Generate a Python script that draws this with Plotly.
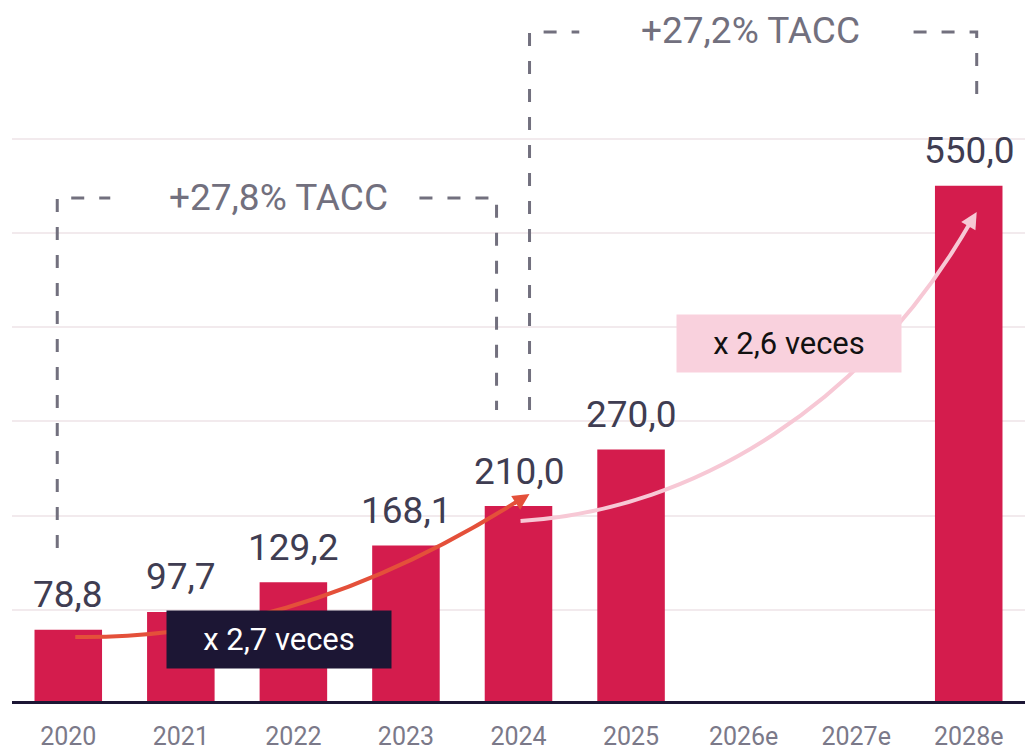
import plotly.graph_objects as go

# ---- data ----
years = ["2020", "2021", "2022", "2023", "2024", "2025", "2026e", "2027e", "2028e"]
values = [78.8, 97.7, 129.2, 168.1, 210.0, 270.0, None, None, 550.0]
value_labels = ["78,8", "97,7", "129,2", "168,1", "210,0", "270,0", "", "", "550,0"]
cagr_labels = ["+27,8% TACC", "+27,2% TACC"]
mult_labels = ["x 2,7 veces", "x 2,6 veces"]

# ---- style ----
BAR = "#d41c4d"
DARK = "#1c1634"
GREY = "#72707e"
LABEL = "#3f3d52"
TICK = "#7b7989"
ORANGE = "#e4503a"
PINK = "#f7c8d5"
PINKBOX = "#f9d1dd"
FONT = "Roboto"

xs = list(range(len(years)))

fig = go.Figure()
fig.add_trace(go.Bar(x=xs, y=values, width=0.6, marker=dict(color=BAR, line=dict(width=0)),
                     hoverinfo="skip"))

annotations = []
for x, v, t in zip(xs, values, value_labels):
    if v is None:
        continue
    annotations.append(dict(x=x, y=v, text=t, showarrow=False, yanchor="middle", yshift=35,
                            font=dict(family=FONT, size=37, color=LABEL)))

shapes = []
# baseline
shapes.append(dict(type="line", xref="paper", yref="y", x0=0, x1=1, y0=0, y1=0,
                   line=dict(color=DARK, width=6)))

dash = "13px,15px"
# bracket 1 (2020 -> 2024)
shapes.append(dict(type="path", path="M -0.098,165.6 L -0.098,537 L 0.373,537",
                   line=dict(color=GREY, width=3, dash=dash)))
shapes.append(dict(type="path", path="M 3.12,537 L 3.805,537 L 3.805,312",
                   line=dict(color=GREY, width=3, dash=dash)))
annotations.append(dict(x=1.87, y=537, text=cagr_labels[0], showarrow=False,
                        font=dict(family=FONT, size=37, color=GREY)))
# bracket 2 (2024 -> 2028e)
shapes.append(dict(type="path", path="M 4.098,312 L 4.098,713 L 4.54,713",
                   line=dict(color=GREY, width=3, dash=dash)))
shapes.append(dict(type="path", path="M 7.51,713 L 8.071,713 L 8.071,643",
                   line=dict(color=GREY, width=3, dash=dash)))
annotations.append(dict(x=6.06, y=715, text=cagr_labels[1], showarrow=False,
                        font=dict(family=FONT, size=37, color=GREY)))

# growth arrows
shapes.append(dict(type="path", path="M 0.062,71.1 Q 2.058,67.9 4.04,219",
                   line=dict(color=ORANGE, width=4)))
annotations.append(dict(x=4.098, y=222.9, ax=3.947, ay=211.2, axref="x", ayref="y",
                        xref="x", yref="y", text="", showarrow=True, arrowhead=2,
                        arrowsize=1.1, arrowwidth=3, arrowcolor=ORANGE, standoff=0))
shapes.append(dict(type="path", path="M 4.018,194.2 C 5.605,205.9 7.113,322.6 8.03,514",
                   line=dict(color=PINK, width=4)))
annotations.append(dict(x=8.071, y=522.1, ax=7.982, ay=504.1, axref="x", ayref="y",
                        xref="x", yref="y", text="", showarrow=True, arrowhead=2,
                        arrowsize=1.1, arrowwidth=3, arrowcolor=PINK, standoff=0))

# multiplier boxes
annotations.append(dict(x=1.87, y=68, text=mult_labels[0], showarrow=False,
                        width=224, height=57, bgcolor=DARK, borderpad=0,
                        font=dict(family=FONT, size=31, color="white")))
annotations.append(dict(x=6.40, y=383, text=mult_labels[1], showarrow=False,
                        width=224, height=57, bgcolor=PINKBOX, borderpad=0,
                        font=dict(family=FONT, size=31, color="#111111")))

fig.update_layout(
    width=1025, height=753,
    margin=dict(l=12, r=0, t=0, b=49, autoexpand=False),
    paper_bgcolor="white", plot_bgcolor="white",
    showlegend=False,
    shapes=shapes, annotations=annotations,
    xaxis=dict(range=[-0.5, 8.5], tickvals=xs, ticktext=years, showgrid=False,
               zeroline=False, showline=False, ticks="outside", ticklen=10,
               tickcolor="rgba(0,0,0,0)",
               tickfont=dict(family=FONT, size=25, color=TICK)),
    yaxis=dict(range=[0, 747], tickvals=[100, 200, 300, 400, 500, 600],
               showticklabels=False, showgrid=True, gridcolor="#f2eaed", gridwidth=1.5,
               zeroline=False, showline=False),
)

fig.write_html("out.html", config={"displayModeBar": False},
               post_script="document.body.style.margin='0';document.body.style.overflow='hidden';")
